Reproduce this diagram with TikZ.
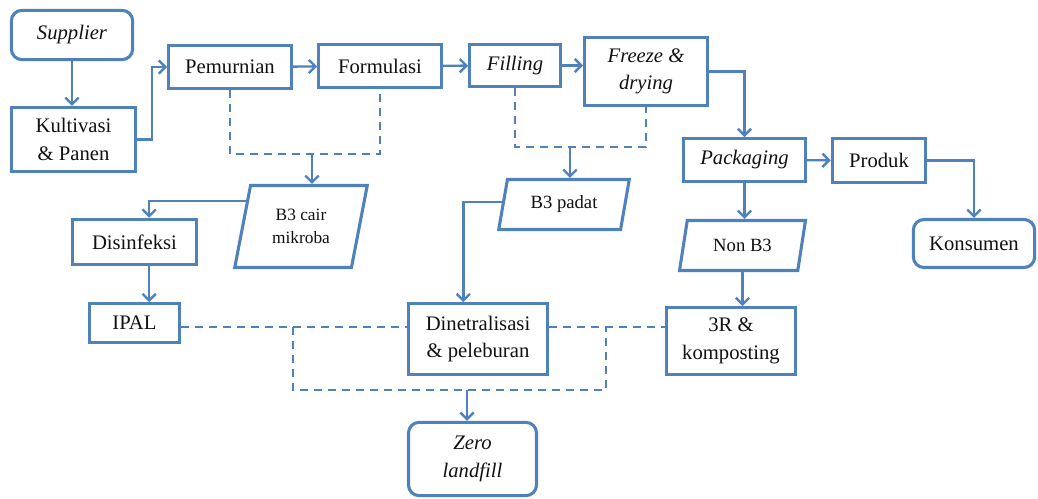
\documentclass[tikz,border=0pt]{standalone}
\usepackage{fontspec}
\setmainfont{Liberation Serif}
\usetikzlibrary{arrows.meta,calc,shapes.geometric}
\definecolor{cBiru}{HTML}{4F81BD}
\definecolor{cTeks}{HTML}{111111}
\def\Lsupplier{\textit{Supplier}}
\def\Lkultivasi{Kultivasi\\\& Panen}
\def\Lpemurnian{Pemurnian}
\def\Lformulasi{Formulasi}
\def\Lfilling{\textit{Filling}}
\def\Lfreeze{\textit{Freeze \&}\\\textit{drying}}
\def\Lpackaging{\textit{Packaging}}
\def\Lproduk{Produk}
\def\Lkonsumen{Konsumen}
\def\Lcair{B3 cair\\mikroba}
\def\Lpadat{B3 padat}
\def\Lnonbtiga{Non B3}
\def\Ldisinfeksi{Disinfeksi}
\def\Lipal{IPAL}
\def\Ldinetral{Dinetralisasi\\\& peleburan}
\def\Ltigar{3R \&\\komposting}
\def\Lzero{\textit{Zero}\\\textit{landfill}}

\begin{document}
\begin{tikzpicture}[
  x=0.75pt, y=-0.75pt,
  kotak/.style={
    draw=cBiru, line width=2.3pt, fill=white, align=center, inner sep=2pt,
    text=cTeks, font=\fontsize{15.5}{20.5}\selectfont
  },
  kotakbulat/.style={kotak, rounded corners=8pt},
  jajar/.style={
    kotak, trapezium, trapezium stretches=true,
    trapezium left angle=76, trapezium right angle=104,
    font=\fontsize{14}{17}\selectfont
  },
  panah/.style={draw=cBiru, line width=1.8pt, -{Straight Barb[length=5pt,width=10pt]}},
  putus/.style={draw=cBiru, line width=1.6pt, dash pattern=on 6pt off 4.5pt}
]
\useasboundingbox (0,0) rectangle (1038,499);

% ── Jalur produksi (baris atas) ──
\node[kotakbulat, minimum width=91pt, minimum height=37pt] (sup)  at (72,35)     {\Lsupplier};
\node[kotak, minimum width=93pt, minimum height=48pt]      (kult) at (73.5,139.5) {\Lkultivasi};
\node[kotak, minimum width=92pt, minimum height=32pt]      (pem)  at (230,67)    {\Lpemurnian};
\node[kotak, minimum width=92pt, minimum height=32pt]      (form) at (380,66)    {\Lformulasi};
\node[kotak, minimum width=68pt, minimum height=31.5pt]    (fill) at (515,65.5)  {\Lfilling};
\node[kotak, minimum width=92pt, minimum height=51pt]      (frz)  at (646,71.5)  {\Lfreeze};
\node[kotak, minimum width=91.5pt, minimum height=32pt]    (pack) at (744.5,160) {\Lpackaging};
\node[kotak, minimum width=70pt, minimum height=33pt]      (prod) at (879,160.5) {\Lproduk};
\node[kotakbulat, minimum width=91pt, minimum height=36pt] (kons) at (974,243.5) {\Lkonsumen};

% ── Limbah ──
\node[jajar, minimum width=100pt, minimum height=61.5pt,
      font=\fontsize{13}{17}\selectfont]                  (cair)  at (301,226.5) {\Lcair};
\node[jajar, minimum width=98pt, minimum height=37.5pt]   (padat) at (564,204.5) {\Lpadat};
\node[jajar, minimum width=94.5pt, minimum height=37.5pt] (nonb)  at (742.5,245.5) {\Lnonbtiga};

\node[kotak, minimum width=93pt, minimum height=34pt]      (dis)  at (134.5,242) {\Ldisinfeksi};
\node[kotak, minimum width=67.5pt, minimum height=29pt]    (ipal) at (134.5,323) {\Lipal};
\node[kotak, minimum width=104pt, minimum height=53pt]     (din)  at (478,339)   {\Ldinetral};
\node[kotak, minimum width=97pt, minimum height=50pt]      (tiga) at (731,341)   {\Ltigar};
\node[kotakbulat, minimum width=96pt, minimum height=55pt] (zero) at (472.5,459) {\Lzero};

% titik pertemuan garis putus-putus
\coordinate (gabung1) at (312,154);
\coordinate (gabung2) at (570,147);
\coordinate (gabung3) at (467,390);
\coordinate (sudutKiri)  at (293,327);
\coordinate (sudutKanan) at (606,327);

% ── Panah alur produk ──
\draw[panah] (sup.south) -- (sup.south |- kult.north);
\draw[panah] (kult.east) -- +(15,0) |- (pem.west);
\draw[panah] (pem) -- (form);
\draw[panah] (form) -- (fill);
\draw[panah] (fill.east) -- (fill.east -| frz.west);
\draw[panah] (frz.east) -| (pack.north);
\draw[panah] (pack) -- (prod);
\draw[panah] (prod.east) -| (kons.north);
\draw[panah] (pack.south) -- (pack.south |- nonb.north);
\draw[panah] (nonb.south) -- (nonb.south |- tiga.north);

% ── Limbah ──
\draw[putus] (pem.south) |- (gabung1) -| (form.south);
\draw[panah] (gabung1) -- (gabung1 |- cair.north);
\draw[putus] (fill.south) |- (gabung2) -| (frz.south);
\draw[panah] (gabung2) -- (gabung2 |- padat.north);

\draw[panah] ($(cair.top left corner)!0.2!(cair.bottom left corner)$) -| ([xshift=11pt]dis.north);
\draw[panah] ([xshift=11pt]dis.south) -- ([xshift=11pt]ipal.north);
\draw[panah] ($(padat.top left corner)!0.45!(padat.bottom left corner)$) -| ([xshift=-11pt]din.north);

\draw[putus] (ipal.east |- sudutKiri) -- (din.west |- sudutKiri);
\draw[putus] (din.east |- sudutKiri) -- (tiga.west |- sudutKiri);
\draw[putus] (sudutKiri) |- (gabung3) -| (sudutKanan);
\draw[panah] (gabung3) -- (gabung3 |- zero.north);

\end{tikzpicture}
\end{document}
